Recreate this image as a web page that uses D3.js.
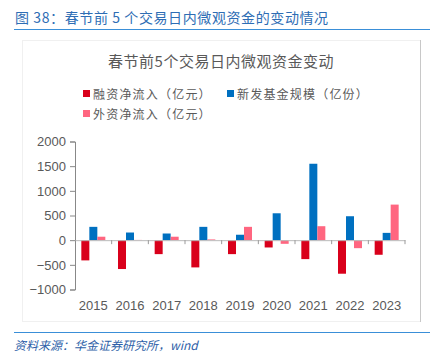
<!DOCTYPE html>
<html>
<head>
<meta charset="utf-8">
<script src="https://cdn.jsdelivr.net/npm/d3@7"></script>
<style>
	body { margin: 0; background: #fff; }
	svg { display: block; font-family: "Liberation Sans", Arial, sans-serif; }
</style>
</head>
<body>
<div id="chart"></div>
<script>
const years = ["2015", "2016", "2017", "2018", "2019", "2020", "2021", "2022", "2023"];
const marginFlow = [-410, -585, -283, -552, -283, -148, -384, -680, -296];
const newFunds = [270, 155, 135, 270, 110, 545, 1549, 485, 148];
const foreignFlow = [70, 5, 70, 15, 270, -74, 283, -162, 721];
const yTicks = [2000, 1500, 1000, 500, 0, -500, -1000];

const series = [
	{ name: "融资净流入（亿元）", values: marginFlow, color: "#d9001b" },
	{ name: "新发基金规模（亿份）", values: newFunds, color: "#0070c0" },
	{ name: "外资净流入（亿元）", values: foreignFlow, color: "#ff6680" }
];

const W = 441, H = 361;
const svg = d3.select("#chart").append("svg")
	.attr("width", W)
	.attr("height", H);

// figure caption
svg.append("text")
	.attr("x", 15).attr("y", 23)
	.attr("fill", "#2e6db4")
	.attr("font-size", 14)
	.attr("letter-spacing", 0.6)
	.attr("font-family", "'Noto Sans CJK SC', sans-serif")
	.text("图 38：春节前 5 个交易日内微观资金的变动情况");
svg.append("line")
	.attr("x1", 14).attr("x2", 430).attr("y1", 29.5).attr("y2", 29.5)
	.attr("stroke", "#3a8fd8").attr("stroke-width", 1);

// chart frame
svg.append("rect")
	.attr("x", 22.5).attr("y", 40.5).attr("width", 398).attr("height", 281)
	.attr("fill", "none").attr("stroke", "#f0f0f0");
svg.append("line")
	.attr("x1", 420.5).attr("x2", 420.5).attr("y1", 40).attr("y2", 322)
	.attr("stroke", "#c8c8c8");

svg.append("text")
	.attr("x", 221).attr("y", 67)
	.attr("text-anchor", "middle")
	.attr("fill", "#595959")
	.attr("font-size", 15)
	.attr("letter-spacing", 0.5)
	.attr("font-family", "'Noto Sans CJK SC', sans-serif")
	.text("春节前5个交易日内微观资金变动");

// legend
const legendPos = [[83, 94], [227, 94], [83, 114]];
series.forEach((s, i) => {
	const [lx, ly] = legendPos[i];
	svg.append("rect")
		.attr("x", lx).attr("y", ly - 4).attr("width", 7).attr("height", 7)
		.attr("fill", s.color);
	svg.append("text")
		.attr("x", lx + 10).attr("y", ly + 4.5)
		.attr("fill", "#595959")
		.attr("font-size", 12)
		.attr("letter-spacing", 1.2)
		.attr("font-family", "'Noto Sans CJK SC', sans-serif")
		.text(s.name);
});

// scales
const left = 75, right = 405;
const x = d3.scaleBand().domain(years).range([left, right]);
const sub = d3.scaleBand().domain(series.map(s => s.name)).range([0, 24]);
const y = d3.scaleLinear().domain([-1000, 2000]).range([289.5, 141.5]);

// bars
series.forEach(s => {
	svg.append("g").selectAll("rect")
		.data(s.values)
		.join("rect")
		.attr("x", (d, i) => x(years[i]) + (x.bandwidth() - 24) / 2 + sub(s.name))
		.attr("width", sub.bandwidth())
		.attr("y", d => y(Math.max(0, d)))
		.attr("height", d => Math.abs(y(d) - y(0)))
		.attr("fill", s.color);
});

// y axis
const yAxis = svg.append("g")
	.attr("transform", `translate(${left},0)`)
	.call(d3.axisLeft(y).tickValues(yTicks).tickFormat(d3.format("d")).tickSize(5).tickPadding(4));
yAxis.select(".domain").attr("stroke", "#888");
yAxis.selectAll(".tick line").attr("stroke", "#888");
yAxis.selectAll("text").attr("fill", "#595959").attr("font-size", 13)
	.attr("font-family", "'Liberation Sans', Arial, sans-serif");

// x axis along zero
const xAxis = svg.append("g")
	.attr("transform", `translate(0,${y(0)})`)
	.call(d3.axisBottom(x).tickValues([]).tickSizeOuter(0));
xAxis.select(".domain").attr("stroke", "#bbb");
svg.append("g").selectAll("line")
	.data(years)
	.join("line")
	.attr("x1", d => x(d) + x.bandwidth())
	.attr("x2", d => x(d) + x.bandwidth())
	.attr("y1", y(0)).attr("y2", y(0) + 4)
	.attr("stroke", "#999");

svg.append("g").selectAll("text")
	.data(years)
	.join("text")
	.attr("x", d => x(d) + x.bandwidth() / 2)
	.attr("y", 310)
	.attr("text-anchor", "middle")
	.attr("fill", "#595959")
	.attr("font-size", 13)
	.text(d => d);

// source
svg.append("line")
	.attr("x1", 14).attr("x2", 430).attr("y1", 332.5).attr("y2", 332.5)
	.attr("stroke", "#3a8fd8");
svg.append("text")
	.attr("x", 14).attr("y", 350)
	.attr("fill", "#2e5fa8")
	.attr("font-size", 12)
	.attr("font-style", "italic")
	.attr("font-family", "'Noto Sans CJK SC', sans-serif")
	.text("资料来源：华金证券研究所，wind");
</script>
</body>
</html>
